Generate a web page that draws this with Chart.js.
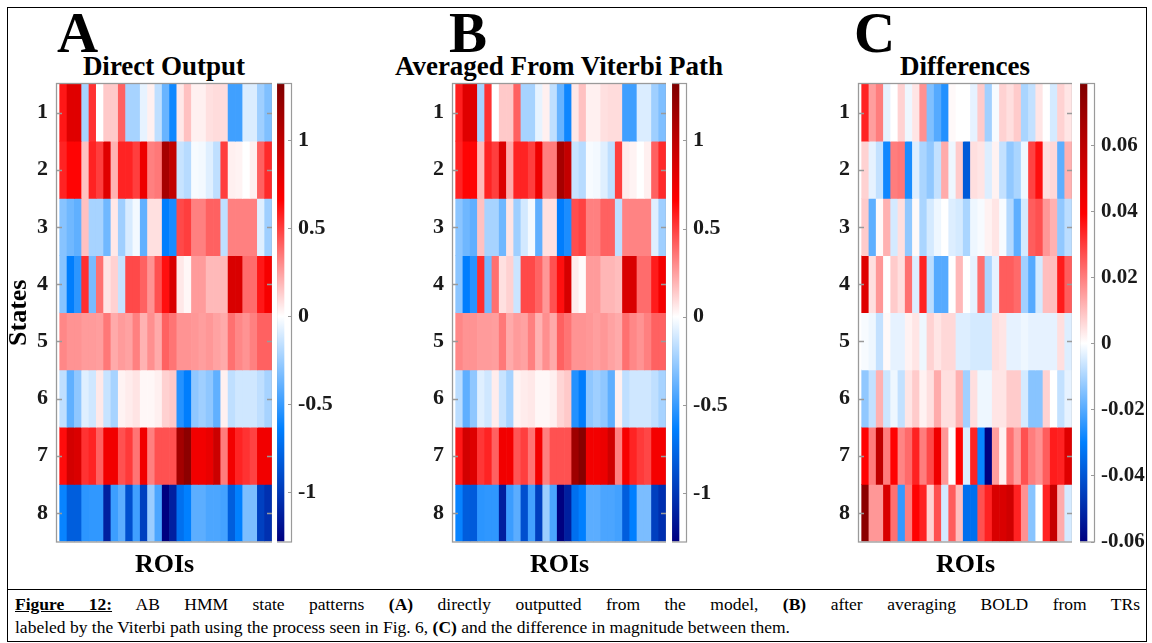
<!DOCTYPE html>
<html><head><meta charset="utf-8">
<script src="https://cdn.jsdelivr.net/npm/chart.js@4.4.0/dist/chart.umd.min.js"></script>
<style>
body{margin:0;background:#fff;}
#fig{position:relative;width:1152px;height:643px;overflow:hidden;background:#fff;font-family:"Liberation Serif","Times New Roman",serif;color:#000;}
canvas{position:absolute;}
.letter{position:absolute;font-weight:bold;font-size:57px;line-height:57px;}
.ptitle{position:absolute;width:400px;text-align:center;font-weight:bold;font-size:27px;line-height:27px;white-space:nowrap;}
.cap{position:absolute;left:15px;width:1125px;font-size:17.5px;line-height:23px;white-space:nowrap;}
.frame{position:absolute;left:7px;top:7px;width:1138px;height:633px;border:1px solid #000;}
.sep{position:absolute;left:7px;top:589px;width:1140px;height:1px;background:#000;}
</style></head>
<body>
<div id="fig">
  <div class="frame"></div>
  <div class="sep"></div>
  <div class="letter" style="left:57px;top:4px;">A</div>
  <div class="letter" style="left:449px;top:4px;">B</div>
  <div class="letter" style="left:854px;top:4px;">C</div>
  <div class="ptitle" style="left:-36px;top:53px;">Direct Output</div>
  <div class="ptitle" style="left:359px;top:53px;">Averaged From Viterbi Path</div>
  <div class="ptitle" style="left:765px;top:53px;">Differences</div>
  <canvas id="hA" width="272" height="535" style="left:0px;top:50px;"></canvas>
  <canvas id="cbA" width="75" height="535" style="left:277px;top:50px;"></canvas>
  <canvas id="hB" width="271" height="535" style="left:395px;top:50px;"></canvas>
  <canvas id="cbB" width="75" height="535" style="left:672px;top:50px;"></canvas>
  <canvas id="hC" width="272" height="535" style="left:800px;top:50px;"></canvas>
  <canvas id="cbC" width="72" height="535" style="left:1080px;top:50px;"></canvas>
  <div class="cap" style="top:593px;text-align:justify;text-align-last:justify;white-space:normal;"><b><u>Figure&nbsp;12:</u></b> AB HMM state patterns <b>(A)</b> directly outputted from the model, <b>(B)</b> after averaging BOLD from TRs</div>
  <div class="cap" style="top:616px;">labeled by the Viterbi path using the process seen in Fig. 6, <b>(C)</b> and the difference in magnitude between them.</div>
</div>
<script>
// ---------- categories / tick labels ----------
const roiIndex = [1,2,3,4,5,6,7,8,9,10,11,12,13,14,15,16,17,18,19,20,21,22,23,24,25,26,27,28,29];
const states = [1,2,3,4,5,6,7,8];
const stateLabels = ['1','2','3','4','5','6','7','8'];
const cbTicksAB = [-1,-0.5,0,0.5,1];
const cbLabelsAB = ['-1','-0.5','0','0.5','1'];
const cbTicksC = [-0.06,-0.04,-0.02,0,0.02,0.04,0.06];
const cbLabelsC = ['-0.06','-0.04','-0.02','0','0.02','0.04','0.06'];
const rangeA = [-1.28, 1.32];
const rangeB = [-1.275, 1.32];
const rangeC = [-0.06, 0.0785];

// ---------- (A) Direct Output ----------
const direct1 = [0.6,0.82,0.82,-0.22,0.53,0.0,0.14,0.14,0.41,-0.22,-0.22,-0.06,0.04,-0.16,-0.38,-0.6,0.06,0.16,0.04,0.04,0.08,0.09,0.09,-0.48,-0.48,-0.09,-0.09,-0.24,-0.32];
const direct2 = [0.57,0.65,0.65,0.16,0.57,0.5,0.82,0.2,0.57,0.57,0.5,0.75,0.33,0.35,1.12,0.98,-0.14,-0.18,-0.02,-0.03,-0.08,-0.16,0.5,0.04,0.03,0.0,0.04,0.41,0.55];
const direct3 = [-0.3,-0.36,-0.4,0.16,-0.22,-0.22,-0.36,0.06,-0.24,-0.1,-0.03,-0.4,0.08,0.08,-0.65,-0.58,0.47,0.5,0.33,0.33,0.41,0.41,-0.16,0.33,0.33,0.33,0.33,-0.08,-0.24];
const direct4 = [-0.3,-0.65,-0.53,0.54,-0.34,0.37,0.07,0.12,-0.14,0.47,0.47,0.41,0.28,0.45,0.62,0.86,0.06,0.02,0.26,0.26,0.18,0.18,0.18,0.86,0.86,0.38,0.38,0.6,0.7];
const direct5 = [0.31,0.28,0.28,0.26,0.26,0.25,0.35,0.22,0.26,0.24,0.33,0.2,0.29,0.22,0.41,0.36,0.28,0.28,0.27,0.25,0.27,0.24,0.22,0.37,0.31,0.28,0.33,0.41,0.41];
const direct6 = [-0.16,-0.4,-0.28,-0.08,-0.12,0.06,-0.14,-0.22,0.03,0.05,0.07,0.02,0.02,0.04,0.12,0.14,-0.55,-0.65,-0.28,-0.24,-0.28,-0.4,0.04,-0.16,-0.12,-0.12,-0.12,-0.16,-0.22];
const direct7 = [0.63,0.89,0.85,0.53,0.57,0.41,0.73,0.73,0.45,0.51,0.36,0.73,0.33,0.45,0.45,0.45,1.14,1.25,0.73,0.73,0.77,0.93,0.34,0.72,0.57,0.53,0.49,0.73,0.73];
const direct8 = [-0.62,-0.81,-0.81,-0.53,-0.52,-0.52,-1.12,-0.49,-0.41,-0.88,-0.48,-0.96,-0.25,-0.45,-1.28,-1.12,-0.72,-0.64,-0.41,-0.41,-0.45,-0.45,-0.47,-0.81,-0.64,-0.33,-0.33,-0.96,-1.04];

// ---------- (B) Averaged From Viterbi Path ----------
const viterbi1 = [0.58,0.82,0.82,-0.22,0.53,0.0,0.14,0.14,0.41,-0.22,-0.22,-0.06,0.04,-0.16,-0.38,-0.6,0.06,0.16,0.04,0.04,0.08,0.09,0.09,-0.48,-0.48,-0.09,-0.09,-0.24,-0.32];
const viterbi2 = [0.57,0.65,0.65,0.18,0.57,0.5,0.84,0.22,0.57,0.57,0.5,0.75,0.33,0.34,1.12,0.97,-0.14,-0.18,-0.02,-0.03,-0.08,-0.16,0.5,0.05,0.03,0.0,0.04,0.41,0.55];
const viterbi3 = [-0.29,-0.36,-0.4,0.16,-0.22,-0.22,-0.36,0.07,-0.24,-0.11,-0.03,-0.4,0.08,0.08,-0.65,-0.57,0.46,0.49,0.33,0.33,0.41,0.41,-0.16,0.32,0.32,0.32,0.32,-0.08,-0.24];
const viterbi4 = [-0.29,-0.65,-0.54,0.54,-0.35,0.37,0.08,0.12,-0.13,0.47,0.47,0.4,0.27,0.45,0.62,0.87,0.05,0.01,0.26,0.26,0.19,0.19,0.17,0.86,0.86,0.38,0.38,0.59,0.71];
const viterbi5 = [0.31,0.28,0.28,0.26,0.26,0.25,0.35,0.22,0.26,0.24,0.33,0.2,0.29,0.22,0.41,0.36,0.28,0.28,0.27,0.25,0.27,0.24,0.22,0.37,0.31,0.28,0.33,0.41,0.41];
const viterbi6 = [-0.17,-0.4,-0.28,-0.08,-0.12,0.05,-0.14,-0.22,0.03,0.05,0.06,0.02,0.02,0.04,0.11,0.14,-0.55,-0.65,-0.28,-0.24,-0.28,-0.4,0.04,-0.16,-0.12,-0.12,-0.12,-0.16,-0.22];
const viterbi7 = [0.6,0.89,0.83,0.52,0.57,0.41,0.73,0.72,0.44,0.5,0.36,0.72,0.33,0.45,0.45,0.45,1.16,1.28,0.72,0.72,0.76,0.91,0.33,0.7,0.57,0.51,0.48,0.71,0.71];
const viterbi8 = [-0.62,-0.81,-0.82,-0.53,-0.52,-0.52,-1.12,-0.49,-0.41,-0.88,-0.47,-0.96,-0.25,-0.45,-1.28,-1.12,-0.72,-0.64,-0.41,-0.41,-0.45,-0.45,-0.47,-0.81,-0.64,-0.33,-0.33,-0.96,-1.04];

// ---------- (C) Differences ----------
const diff1 = [0.034,0.015,0.02,-0.003,0.0,0.007,-0.002,0.004,0.017,-0.015,-0.02,-0.026,0.001,0.0,0.0,-0.003,0.008,-0.011,-0.001,0.007,0.005,0.008,-0.01,-0.007,0.004,0.0,-0.005,0.007,0.004];
const diff2 = [0.007,-0.003,-0.007,-0.028,0.02,0.021,-0.027,-0.004,-0.01,-0.013,-0.007,0.013,-0.002,0.008,-0.039,0.005,0.004,-0.004,0.002,-0.007,-0.013,-0.01,-0.002,0.029,0.037,0.005,0.006,-0.019,0.012];
const diff3 = [0.008,-0.019,0.001,0.012,-0.005,0.005,-0.013,0.001,-0.01,-0.005,-0.002,0.0,-0.004,-0.005,-0.01,-0.002,-0.001,0.002,0.004,-0.001,-0.009,-0.019,-0.005,0.025,0.027,0.016,0.012,-0.013,-0.008];
const diff4 = [0.049,0.005,0.016,0.0,0.008,0.005,0.022,-0.004,0.034,-0.008,-0.02,-0.02,0.0,0.011,0.0,-0.003,0.022,-0.01,-0.003,0.025,0.025,0.023,-0.011,-0.02,-0.005,0.01,0.01,0.035,0.025];
const diff5 = [-0.001,-0.002,-0.007,0.001,-0.003,-0.003,0.002,0.004,-0.002,0.007,0.004,0.006,0.006,-0.004,-0.004,-0.005,-0.005,-0.005,0.005,0.004,-0.003,-0.003,-0.002,-0.003,-0.003,-0.003,-0.003,0.005,-0.004];
const diff6 = [-0.013,-0.007,0.012,-0.006,-0.002,-0.007,0.004,0.008,0.002,0.005,0.013,0.005,0.005,0.012,-0.011,0.005,-0.002,-0.002,0.004,0.004,0.008,0.008,-0.005,-0.014,-0.014,0.007,0.0,-0.007,-0.003];
const diff7 = [0.039,0.02,0.059,0.02,0.039,0.019,0.023,0.034,0.02,0.028,0.044,0.016,0.0,0.039,-0.004,0.034,-0.029,-0.06,0.015,0.002,0.022,0.015,0.027,0.02,0.017,0.025,0.035,0.034,0.049];
const diff8 = [0.075,0.016,0.016,0.051,0.022,-0.024,0.02,0.039,0.034,0.007,0.027,-0.005,0.025,0.01,-0.034,-0.034,0.027,0.034,0.051,0.051,0.054,0.034,0.017,-0.014,0.0,0.034,0.057,0.013,-0.005];

const directRows = [direct1,direct2,direct3,direct4,direct5,direct6,direct7,direct8];
const viterbiRows = [viterbi1,viterbi2,viterbi3,viterbi4,viterbi5,viterbi6,viterbi7,viterbi8];
const diffRows = [diff1,diff2,diff3,diff4,diff5,diff6,diff7,diff8];

// ---------- styling ----------
const FONT = '"Liberation Serif", "Times New Roman", serif';

// blue-white-red colormap, white at zero
function cmap(v, lo, hi) {
  let r, g, b;
  if (v >= 0) {
    const t = Math.min(v / hi, 1);
    if (t <= 0.5) { const k = t / 0.5; r = 255; g = b = 255 * (1 - k); }
    else { const k = (t - 0.5) / 0.5; r = 255 - 127 * k; g = b = 0; }
  } else {
    const t = Math.min(v / lo, 1);
    if (t <= 0.5) { const k = t / 0.5; r = 255 * (1 - k); g = 255 - 127 * k; b = 255; }
    else { const k = (t - 0.5) / 0.5; r = 0; g = 128 * (1 - k); b = 255 - 127 * k; }
  }
  return 'rgb(' + Math.round(r) + ',' + Math.round(g) + ',' + Math.round(b) + ')';
}

const boxPlugin = {
  id: 'box',
  afterDatasetsDraw(chart, args, o) {
    if (!o || !o.show) return;
    const {ctx, chartArea: a} = chart;
    ctx.save();
    ctx.strokeStyle = o.color;
    ctx.lineWidth = o.lineWidth;
    ctx.strokeRect(a.left - 0.5, a.top - 0.5, a.right - a.left + 1, a.bottom - a.top + 1);
    const ys = chart.scales.y;
    ctx.beginPath();
    ys.ticks.forEach(t => {
      const p = Math.round(ys.getPixelForValue(t.value)) + 0.5;
      if (o.leftTicks) { ctx.moveTo(a.left, p); ctx.lineTo(a.left + o.tickLen, p); }
      if (o.rightTicks) { ctx.moveTo(a.right, p); ctx.lineTo(a.right - o.tickLen, p); }
    });
    ctx.stroke();
    ctx.restore();
  }
};
Chart.register(boxPlugin);

function heatmap(id, rows, range, yWidth, showStates) {
  const [lo, hi] = range;
  const datasets = rows.map((vals, r) => ({
    data: vals.map((v, i) => ({x: roiIndex[i], y: [states[r] - 0.5, states[r] + 0.5]})),
    backgroundColor: vals.map(v => cmap(v, lo, hi)),
    borderWidth: 0,
    grouped: false,
    barPercentage: 1,
    categoryPercentage: 1
  }));
  return new Chart(document.getElementById(id), {
    type: 'bar',
    data: {datasets},
    options: {
      responsive: false, animation: false, events: [],
      layout: {padding: {top: 34, left: 0, right: 0, bottom: 0}},
      plugins: {
        legend: {display: false}, tooltip: {enabled: false}, title: {display: false},
        box: {show: true, color: '#9a9a9a', lineWidth: 1.3, leftTicks: true, rightTicks: true, tickLen: 5}
      },
      scales: {
        x: {
          type: 'linear', min: 0.13, max: 29.5, offset: false,
          grid: {display: false, drawTicks: false}, border: {display: false},
          ticks: {display: false},
          afterBuildTicks: s => { s.ticks = roiIndex.map(v => ({value: v})); },
          title: {display: true, text: 'ROIs', color: '#000', font: {family: FONT, size: 26, weight: 'bold'}, padding: {top: 0, bottom: 4}},
          afterFit: s => { s.height = 43.5; }
        },
        y: {
          type: 'linear', reverse: true, min: 0.5, max: 8.5,
          grid: {display: false, drawTicks: false}, border: {display: false},
          afterBuildTicks: s => { s.ticks = states.map(v => ({value: v})); },
          ticks: {autoSkip: false, padding: 9, color: '#1a1a1a', font: {family: FONT, size: 22, weight: 'bold'},
                  callback: (v, i) => stateLabels[i]},
          title: {display: showStates, text: 'States', color: '#000', font: {family: FONT, size: 26, weight: 'bold'}, padding: {top: 4, bottom: 0}},
          afterFit: s => { s.width = yWidth; }
        }
      }
    }
  });
}

function colorbar(id, range, tickVals, tickLabels, fontSize, yWidth) {
  const [lo, hi] = range;
  const stops = [lo, lo / 2, 0, hi / 2, hi];
  return new Chart(document.getElementById(id), {
    type: 'bar',
    data: {
      labels: ['cb'],
      datasets: [{
        data: [[lo, hi]],
        borderWidth: 0, barPercentage: 1, categoryPercentage: 1,
        backgroundColor: (c) => {
          const ch = c.chart, ys = ch.scales.y;
          if (!ys || !ch.chartArea) return '#fff';
          const g = ch.ctx.createLinearGradient(0, ys.getPixelForValue(lo), 0, ys.getPixelForValue(hi));
          stops.forEach(v => g.addColorStop((v - lo) / (hi - lo), cmap(v, lo, hi)));
          return g;
        }
      }]
    },
    options: {
      responsive: false, animation: false, events: [],
      layout: {padding: {top: 34, left: 0, right: 0, bottom: 43.5}},
      plugins: {
        legend: {display: false}, tooltip: {enabled: false},
        box: {show: true, color: '#9a9a9a', lineWidth: 1.2, leftTicks: false, rightTicks: true, tickLen: 3}
      },
      scales: {
        x: {display: false, offset: false},
        y: {
          position: 'right', min: lo, max: hi,
          grid: {display: false, drawTicks: false}, border: {display: false},
          afterBuildTicks: s => { s.ticks = tickVals.map(v => ({value: v})); },
          ticks: {autoSkip: false, padding: 7, color: '#1a1a1a', font: {family: FONT, size: fontSize, weight: 'bold'},
                  callback: (v, i) => tickLabels[i]},
          afterFit: s => { s.width = yWidth; }
        }
      }
    }
  });
}

heatmap('hA', directRows, rangeA, 57, true);
heatmap('hB', viterbiRows, rangeB, 58, false);
heatmap('hC', diffRows, rangeC, 59, false);
colorbar('cbA', rangeA, cbTicksAB, cbLabelsAB, 22, 61);
colorbar('cbB', rangeB, cbTicksAB, cbLabelsAB, 22, 61);
colorbar('cbC', rangeC, cbTicksC, cbLabelsC, 21, 58);
</script>
</body></html>
